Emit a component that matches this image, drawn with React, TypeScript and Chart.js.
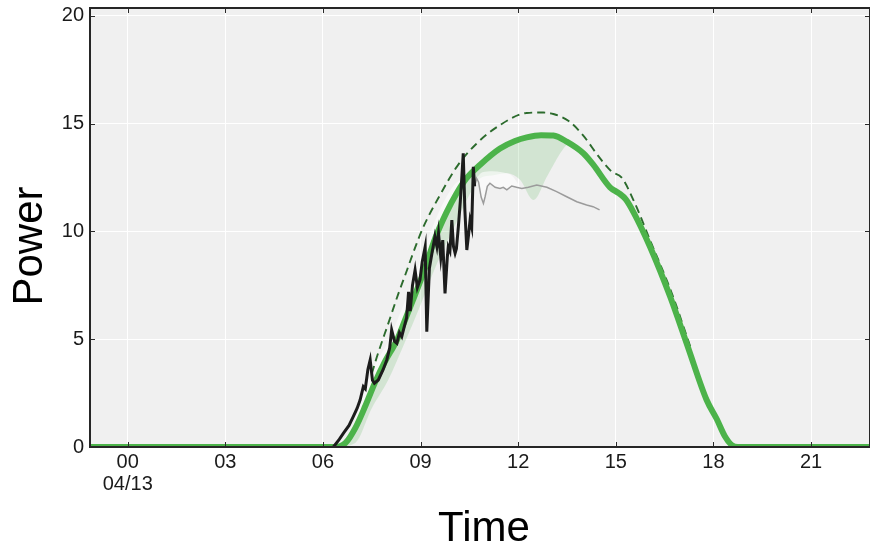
import React, { useEffect, useRef } from 'react';
import { Chart, registerables } from 'chart.js';

Chart.register(...registerables);

// ---- axis definitions ----
const xTickValues = [0, 3, 6, 9, 12, 15, 18, 21];
const xTickLabels: (string | string[])[] = [['00', '04/13'], '03', '06', '09', '12', '15', '18', '21'];
const yTickValues = [0, 5, 10, 15, 20];
const yTickLabels = ['0', '5', '10', '15', '20'];
const xAxisTitle = 'Time';
const yAxisTitle = 'Power';
const xMin = -1.16;
const xMax = 22.81;
const yMin = 0;
const yMax = 20.37;

// ---- forecast (thick green) ----
const forecastHours = [-1.2, 6.4, 6.7, 7.0, 7.3, 7.6, 7.9, 8.27, 8.52, 8.8, 9.08, 9.45, 9.8, 10.1, 10.4, 10.83, 11.44, 11.9, 12.26, 12.7, 13.08, 13.49, 14.0, 14.31, 14.82, 15.1, 15.3, 15.54, 16.05, 16.67, 17.2, 17.79, 18.1, 18.35, 18.56, 18.75, 22.9];
const forecastPower = [0, 0, 0.2, 0.9, 1.9, 3.0, 3.95, 4.96, 5.89, 6.95, 8.06, 9.7, 10.9, 11.75, 12.45, 13.1, 13.85, 14.2, 14.37, 14.47, 14.45, 14.17, 13.63, 13.09, 12.05, 11.77, 11.5, 10.9, 9.29, 6.97, 4.7, 2.18, 1.3, 0.5, 0.09, 0, 0];

// ---- upper bound (dashed) ----
const upperHours = [7.5, 7.65, 8.01, 8.32, 8.52, 8.88, 9.08, 9.6, 10.11, 10.7, 11.44, 12.26, 12.77, 13.08, 13.55, 14.0, 14.51, 14.87, 15.18, 15.54, 16.05, 16.72, 17.3];
const upperPower = [3.4, 4.15, 5.75, 7.13, 7.95, 9.45, 10.2, 11.7, 13.0, 14.05, 14.94, 15.5, 15.52, 15.45, 15.13, 14.45, 13.4, 12.78, 12.5, 11.46, 9.6, 7.13, 4.6];

// ---- lower edge of the green uncertainty band ----
const bandHours = [6.45, 7.0, 7.5, 8.0, 8.5, 9.0, 9.5, 10.0, 10.5, 10.83, 11.2, 11.65, 12.06, 12.47, 12.88, 13.29, 13.55];
const bandLow = [0, 0.2, 1.8, 3.1, 4.8, 6.6, 8.5, 10.1, 11.7, 12.47, 12.6, 12.7, 12.39, 11.46, 12.54, 13.63, 14.15];

// ---- light (whitish) band above the rising forecast ----
const lightHours = [6.9, 7.5, 8.0, 8.5, 9.0, 9.5, 10.0, 10.35];
const lightTop = [0.9, 3.5, 4.9, 6.7, 8.7, 10.7, 12.1, 12.5];

// ---- whitish patch above the recent line ----
const patchHours = [10.72, 10.9, 11.2, 11.5, 11.8, 12.05];
const patchTop = [12.5, 12.75, 12.8, 12.75, 12.6, 12.1];

// ---- actual (black) ----
const actualHours = [6.32, 6.5, 6.63, 6.8, 6.93, 7.05, 7.14, 7.24, 7.3, 7.38, 7.45, 7.52, 7.58, 7.7, 7.85, 7.96, 8.05, 8.11, 8.2, 8.27, 8.35, 8.42, 8.5, 8.57, 8.63, 8.68, 8.75, 8.83, 8.9, 8.98, 9.05, 9.14, 9.19, 9.27, 9.35, 9.44, 9.5, 9.55, 9.62, 9.68, 9.75, 9.82, 9.85, 9.9, 9.96, 10.01, 10.06, 10.1, 10.16, 10.22, 10.27, 10.31, 10.36, 10.42, 10.47, 10.52, 10.57, 10.62, 10.66];
const actualPower = [0, 0.35, 0.64, 1.0, 1.41, 1.8, 2.18, 2.8, 2.7, 3.6, 4.04, 3.1, 2.96, 3.11, 3.6, 4.04, 4.6, 5.43, 4.9, 4.81, 5.3, 5.12, 5.6, 6.0, 7.2, 6.3, 7.5, 8.21, 7.4, 7.75, 8.6, 9.29, 5.35, 8.3, 9.0, 9.76, 9.3, 9.92, 8.8, 9.6, 7.13, 8.8, 9.29, 9.1, 10.53, 9.3, 8.99, 9.2, 10.22, 11.4, 12.6, 13.63, 11.0, 9.14, 9.8, 10.53, 10.2, 13.0, 12.1];

// ---- recent estimate (thin gray) ----
const recentHours = [10.66, 10.72, 10.78, 10.86, 10.93, 10.98, 11.05, 11.13, 11.29, 11.44, 11.54, 11.65, 11.8, 11.95, 12.11, 12.31, 12.57, 12.88, 13.18, 13.49, 13.8, 14.1, 14.3, 14.5];
const recentPower = [12.1, 12.47, 12.3, 11.6, 11.3, 11.6, 12.1, 12.24, 12.05, 12.0, 12.05, 11.93, 12.11, 12.05, 12.0, 12.05, 12.16, 12.05, 11.85, 11.61, 11.38, 11.23, 11.15, 11.0];

const FONT = '"Liberation Sans", Arial, Helvetica, sans-serif';

const pts = (xs: number[], ys: number[]) => xs.map((x, i) => ({ x, y: ys[i] }));

const framePlugin = {
  id: 'frameAndTitles',
  beforeDraw(chart: any) {
    const { ctx, chartArea: a } = chart;
    ctx.save();
    ctx.fillStyle = '#f0f0f0';
    ctx.fillRect(a.left, a.top, a.right - a.left, a.bottom - a.top);
    ctx.restore();
  },
  afterDatasetsDraw(chart: any) {
    const { ctx, chartArea: a, scales } = chart;
    ctx.save();
    ctx.strokeStyle = '#2a2a2a';
    ctx.lineWidth = 1;
    ctx.beginPath();
    for (const t of scales.x.ticks) {
      const px = Math.round(scales.x.getPixelForValue(t.value)) + 0.5;
      ctx.moveTo(px, a.bottom);
      ctx.lineTo(px, a.bottom - 5);
      ctx.moveTo(px, a.top);
      ctx.lineTo(px, a.top + 5);
    }
    for (const t of scales.y.ticks) {
      const py = Math.round(scales.y.getPixelForValue(t.value)) + 0.5;
      ctx.moveTo(a.left, py);
      ctx.lineTo(a.left + 5, py);
      ctx.moveTo(a.right, py);
      ctx.lineTo(a.right - 5, py);
    }
    ctx.stroke();
    ctx.lineWidth = 2;
    ctx.strokeStyle = '#262626';
    ctx.strokeRect(a.left, a.top, a.right - a.left, a.bottom - a.top);
    ctx.restore();
  },
  afterDraw(chart: any) {
    const { ctx } = chart;
    ctx.save();
    ctx.fillStyle = '#000000';
    ctx.font = `42px ${FONT}`;
    ctx.textAlign = 'center';
    ctx.textBaseline = 'alphabetic';
    ctx.fillText(xAxisTitle, 484, 541);
    ctx.translate(42, 246);
    ctx.rotate(-Math.PI / 2);
    ctx.fillText(yAxisTitle, 0, 0);
    ctx.restore();
  },
};

export default function App() {
  const ref = useRef<HTMLCanvasElement>(null);

  useEffect(() => {
    if (!ref.current) return;
    const lineBase = { pointRadius: 0, pointHoverRadius: 0, clip: 0 };
    const chart = new Chart(ref.current, {
      type: 'line',
      data: {
        datasets: [
          { ...lineBase, label: 'Actual', data: pts(actualHours, actualPower), borderColor: '#1c1c1c', borderWidth: 3, tension: 0, fill: false },
          { ...lineBase, label: 'Recent', data: pts(recentHours, recentPower), borderColor: '#9b9b9b', borderWidth: 1.5, tension: 0, fill: false },
          { ...lineBase, label: 'Forecast', data: pts(forecastHours, forecastPower), borderColor: '#4cb34a', borderWidth: 6, cubicInterpolationMode: 'monotone', fill: false },
          { ...lineBase, label: 'Upper', data: pts(upperHours, upperPower), borderColor: '#2c6b2d', borderWidth: 1.9, borderDash: [8, 5], cubicInterpolationMode: 'monotone', fill: false },
          { ...lineBase, label: 'Light band', data: pts(lightHours, lightTop), borderColor: 'rgba(0,0,0,0)', borderWidth: 0, cubicInterpolationMode: 'monotone', backgroundColor: 'rgba(255,255,255,0.5)', fill: 2 },
          { ...lineBase, label: 'Patch', data: pts(patchHours, patchTop), borderColor: 'rgba(0,0,0,0)', borderWidth: 0, cubicInterpolationMode: 'monotone', backgroundColor: 'rgba(255,255,255,0.6)', fill: 1 },
          { ...lineBase, label: 'Band', data: pts(bandHours, bandLow), borderColor: 'rgba(0,0,0,0)', borderWidth: 0, cubicInterpolationMode: 'monotone', backgroundColor: 'rgba(80,180,80,0.18)', fill: 2 },
        ] as any,
      },
      options: {
        animation: false,
        responsive: false,
        maintainAspectRatio: false,
        layout: { padding: { top: 8, left: 0, right: 0, bottom: 0 } },
        plugins: { legend: { display: false }, tooltip: { enabled: false }, title: { display: false } },
        scales: {
          x: {
            type: 'linear',
            min: xMin,
            max: xMax,
            afterBuildTicks: (s: any) => { s.ticks = xTickValues.map((v) => ({ value: v })); },
            afterFit: (s: any) => { s.height = 99; s.paddingLeft = 0; s.paddingRight = 0; },
            ticks: {
              autoSkip: false,
              maxRotation: 0,
              minRotation: 0,
              padding: 4,
              color: '#1a1a1a',
              font: { family: FONT, size: 20, lineHeight: 1.13 },
              callback: (v: any) => { const i = xTickValues.indexOf(Number(v)); return i >= 0 ? xTickLabels[i] : ''; },
            },
            grid: { color: '#ffffff', lineWidth: 1, drawTicks: false },
            border: { display: false },
          },
          y: {
            type: 'linear',
            min: yMin,
            max: yMax,
            afterBuildTicks: (s: any) => { s.ticks = yTickValues.map((v) => ({ value: v })); },
            afterFit: (s: any) => { s.width = 90; s.paddingTop = 0; s.paddingBottom = 0; },
            ticks: {
              padding: 6,
              color: '#1a1a1a',
              font: { family: FONT, size: 20 },
              callback: (v: any) => { const i = yTickValues.indexOf(Number(v)); return i >= 0 ? yTickLabels[i] : ''; },
            },
            grid: { color: '#ffffff', lineWidth: 1, drawTicks: false },
            border: { display: false },
          },
        },
      } as any,
      plugins: [framePlugin],
    });
    return () => chart.destroy();
  }, []);

  return (
    <div style={{ position: 'fixed', left: 0, top: 0, width: 870, height: 546, background: '#ffffff' }}>
      <canvas ref={ref} width={870} height={546} style={{ display: 'block', width: 870, height: 546 }} />
    </div>
  );
}
